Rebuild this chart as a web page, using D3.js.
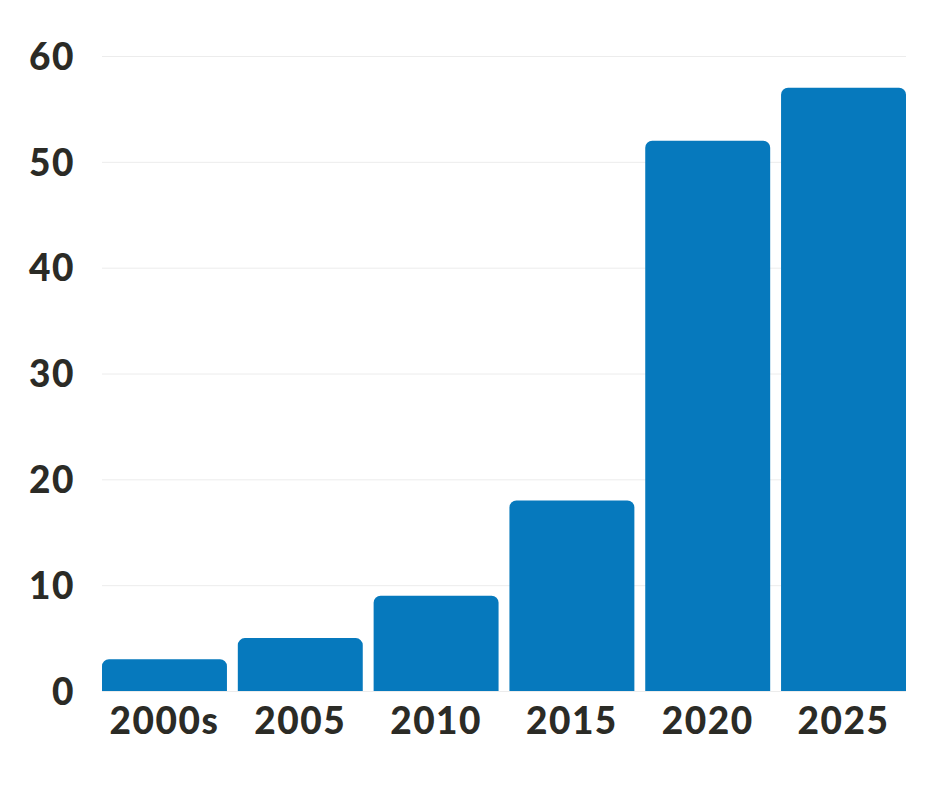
<!DOCTYPE html>
<meta charset="utf-8">
<style>
body { margin: 0; background: #fff; font-family: Lato, "Open Sans", sans-serif; }
.axis text { font-family: Lato, sans-serif; font-weight: 900; fill: #2b2b26; letter-spacing: 1.5px; }
.grid line { stroke: #ececec; stroke-width: 1px; }
</style>
<svg id="chart" width="940" height="788"></svg>
<script src="https://cdn.jsdelivr.net/npm/d3@7"></script>
<script>
// values
var categories = ["2000s", "2005", "2010", "2015", "2020", "2025"];
var values = [3, 5, 9, 18, 52, 57];
var yTicks = [0, 10, 20, 30, 40, 50, 60];

var W = 940, H = 788;
var plotLeft = 102, plotRight = 906, plotTop = 56, plotBottom = 691;

var svg = d3.select("#chart");

var x = d3.scaleBand()
    .domain(categories)
    .range([plotLeft, plotRight])
    .paddingInner(0.08)
    .paddingOuter(0);

var y = d3.scaleLinear()
    .domain([0, 60])
    .range([plotBottom, plotTop]);

// gridlines
svg.append("g")
    .attr("class", "grid")
    .selectAll("line")
    .data(yTicks)
  .enter().append("line")
    .attr("x1", plotLeft)
    .attr("x2", plotRight)
    .attr("y1", function(d) { return y(d) + 0.5; })
    .attr("y2", function(d) { return y(d) + 0.5; });

// bars with rounded top corners
var r = 7;
function barPath(d, i) {
  var x0 = x(categories[i]), w = x.bandwidth(), y0 = y(d), y1 = y(0);
  return "M" + x0 + "," + y1 +
    "V" + (y0 + r) +
    "A" + r + "," + r + " 0 0 1 " + (x0 + r) + "," + y0 +
    "H" + (x0 + w - r) +
    "A" + r + "," + r + " 0 0 1 " + (x0 + w) + "," + (y0 + r) +
    "V" + y1 + "Z";
}

svg.append("g")
    .selectAll("path")
    .data(values)
  .enter().append("path")
    .attr("d", barPath)
    .attr("fill", "#0679bd");

// y axis
var yAxis = svg.append("g")
    .attr("class", "axis")
    .attr("transform", "translate(" + 75 + ",0)")
    .call(d3.axisLeft(y).tickValues(yTicks).tickSize(0).tickPadding(0));
yAxis.select(".domain").remove();
yAxis.selectAll("text")
    .style("font-size", "37px")
    .attr("dy", "0.36em");

// x axis
var xAxis = svg.append("g")
    .attr("class", "axis")
    .attr("transform", "translate(0," + plotBottom + ")")
    .call(d3.axisBottom(x).tickSize(0).tickPadding(17));
xAxis.select(".domain").remove();
xAxis.selectAll("text")
    .style("font-size", "37px")
    .attr("dy", "0.71em");
</script>
